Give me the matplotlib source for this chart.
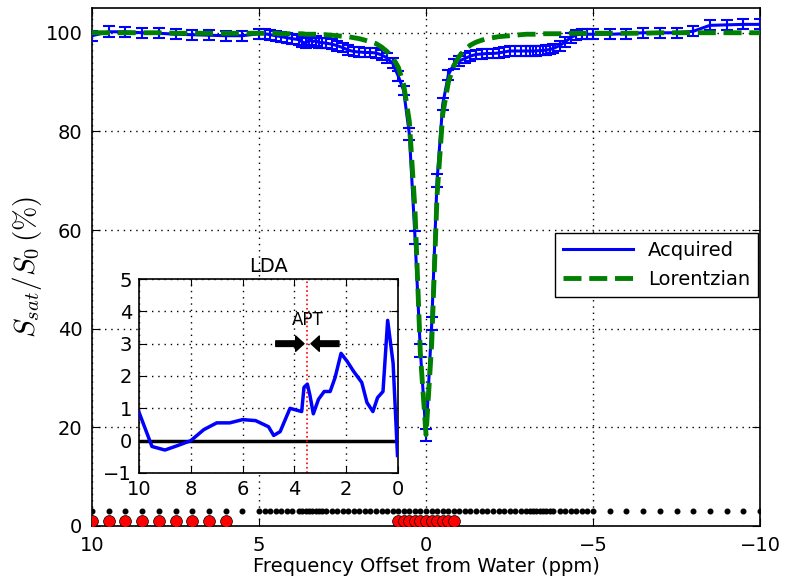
import matplotlib
matplotlib.use("Agg")
import matplotlib.pyplot as plt
from matplotlib.lines import Line2D

plt.rcParams['font.family'] = ['DejaVu Sans']
plt.rcParams['mathtext.fontset'] = 'cm'

# ---------------- data ----------------
offsets = [10, 9.5, 9, 8.5, 8, 7.5, 7, 6.5, 6, 5.5, 5,
           4.83, 4.67, 4.5, 4.33, 4.17, 4.0,
           3.8, 3.7, 3.6, 3.5, 3.4, 3.3, 3.2, 3.1, 3.0,
           2.83, 2.67, 2.5, 2.33, 2.17, 2.0,
           1.83, 1.67, 1.5, 1.33, 1.17, 1.0,
           0.83, 0.67, 0.5, 0.33, 0.17, 0,
           -0.17, -0.33, -0.5, -0.67, -0.83,
           -1.0, -1.17, -1.33, -1.5, -1.67, -1.83,
           -2.0, -2.17, -2.33, -2.5, -2.67, -2.83,
           -3.0, -3.1, -3.2, -3.3, -3.4, -3.5, -3.6, -3.7, -3.8,
           -4.0, -4.17, -4.33, -4.5, -4.67, -4.83,
           -5, -5.5, -6, -6.5, -7, -7.5, -8, -8.5, -9, -9.5, -10]

acquired = [99.4, 100.2, 100.2, 100.0, 99.9, 99.7, 99.6, 99.5, 99.4, 99.4, 99.8,
            99.8, 99.6, 99.4, 99.2, 99.0, 98.8,
            98.6, 98.1, 97.9, 98.6, 98.2, 98.4, 98.0, 98.0, 97.9,
            97.7, 97.4, 97.0, 96.5, 96.2, 96.1,
            96.0, 96.0, 95.9, 95.5, 94.9, 93.8,
            91.2, 88.3, 79.5, 58.5, 35.5, 18.4,
            41.0, 70.0, 85.5, 91.5, 93.6,
            94.3, 94.8, 95.3, 95.6, 95.7, 95.8,
            95.8, 95.9, 96.1, 96.3, 96.3, 96.3,
            96.3, 96.3, 96.3, 96.3, 96.4, 96.4, 96.5, 96.6, 96.8,
            97.4, 98.2, 99.0, 99.6, 99.7, 99.7,
            99.7, 99.7, 99.8, 100.0, 100.0, 100.0, 100.3, 101.5, 101.6, 101.7, 101.7]

errors = [1.0, 1.1, 1.0, 1.0, 1.0, 1.0, 1.0, 1.0, 1.0, 1.0, 1.0,
          1.0, 1.0, 1.0, 1.0, 1.0, 1.0,
          1.0, 1.0, 1.0, 1.0, 1.0, 1.0, 1.0, 1.0, 1.0,
          1.0, 1.0, 1.0, 1.0, 1.0, 1.0,
          1.0, 1.0, 1.0, 1.0, 1.0, 1.0,
          1.0, 1.0, 1.2, 1.3, 1.3, 1.2,
          1.3, 1.3, 1.2, 1.0, 1.0,
          1.0, 1.0, 1.0, 1.0, 1.0, 1.0,
          1.0, 1.0, 1.0, 1.0, 1.0, 1.0,
          1.0, 1.0, 1.0, 1.0, 1.0, 1.0, 1.0, 1.0, 1.0,
          1.0, 1.0, 1.0, 1.0, 1.0, 1.0,
          1.0, 1.0, 1.0, 1.0, 1.0, 1.0, 1.0, 1.0, 1.0, 1.0, 1.0]

lorentzian = [100.0, 100.0, 100.0, 100.0, 100.0, 99.9, 99.9, 99.9, 99.9, 99.9, 99.9,
              99.9, 99.9, 99.9, 99.8, 99.8, 99.8,
              99.8, 99.8, 99.7, 99.7, 99.7, 99.7, 99.7, 99.6, 99.6,
              99.5, 99.4, 99.3, 99.2, 99.0, 98.8,
              98.5, 98.2, 97.8, 97.1, 96.2, 95.0,
              93.0, 89.5, 82.0, 64.0, 35.0, 18.5,
              37.0, 67.0, 83.5, 90.0, 93.3,
              95.3, 96.6, 97.5, 98.1, 98.5, 98.8,
              99.0, 99.2, 99.3, 99.4, 99.5, 99.6,
              99.7, 99.7, 99.7, 99.7, 99.7, 99.8, 99.8, 99.8, 99.8,
              99.8, 99.8, 99.9, 99.9, 99.9, 99.9,
              99.9, 99.9, 99.9, 99.9, 100.0, 100.0, 100.0, 100.0, 100.0, 100.0, 100.0]

sample_level = 3
selected_offsets = [10, 9.5, 9, 8.5, 8, 7.5, 7, 6.5, 6,
                    0.83, 0.67, 0.5, 0.33, 0.17, 0, -0.17, -0.33, -0.5, -0.67, -0.83]
selected_level = 1

lda_x = [10, 9.5, 9, 8.5, 8, 7.5, 7, 6.5, 6, 5.5, 5, 4.8, 4.55, 4.17, 3.72, 3.63,
         3.5, 3.4, 3.27, 3.07, 2.85, 2.62, 2.43, 2.2, 1.97, 1.72, 1.4, 1.2, 0.97,
         0.79, 0.58, 0.4, 0.19, 0.02]
lda_y = [0.88, -0.18, -0.29, -0.15, 0.0, 0.34, 0.55, 0.55, 0.65, 0.62, 0.43, 0.16,
         0.28, 1.0, 0.9, 1.65, 1.75, 1.4, 0.83, 1.28, 1.52, 1.52, 1.95, 2.7, 2.46,
         2.15, 1.8, 1.18, 0.9, 1.33, 1.52, 3.72, 2.4, -0.46]
apt_ppm = 3.5

GRID = dict(color='k', linestyle=(0, (1, 3.5)), linewidth=1.0)

# ---------------- figure ----------------
fig = plt.figure(figsize=(7.88, 5.78), dpi=100)
fig.patch.set_facecolor('white')
ax = fig.add_axes([0.1168, 0.09, 0.8477, 0.896])

ax.errorbar(offsets, acquired, yerr=errors, color='b', lw=2.2, capsize=4,
            elinewidth=1.5, capthick=1.5, zorder=3)
ax.plot(offsets, lorentzian, '--', color='g', lw=3.5, zorder=4)
ax.plot(offsets, [sample_level] * len(offsets), 'o', color='k', ms=3.3, zorder=5)
ax.plot(selected_offsets, [selected_level] * len(selected_offsets), 'o',
        color='red', mec='k', mew=0.5, ms=8.5, zorder=5)

ax.set_xlim(10, -10)
ax.set_ylim(0, 105)
ax.set_xticks([10, 5, 0, -5, -10])
ax.set_yticks([0, 20, 40, 60, 80, 100])
ax.grid(True, **GRID)
ax.tick_params(direction='in', top=True, right=True, length=6, labelsize=14, pad=7)
ax.set_xlabel('Frequency Offset from Water (ppm)', fontsize=14, labelpad=2)
ax.set_ylabel(r'$S_{sat}/S_0\,(\%)$', fontsize=21, labelpad=1)
for s in ax.spines.values():
    s.set_linewidth(1.2)

handles = [Line2D([], [], color='b', lw=2.2),
           Line2D([], [], color='g', lw=3.5, ls='--')]
leg = ax.legend(handles, ['Acquired', 'Lorentzian'], loc='center right',
                bbox_to_anchor=(0.997, 0.504), borderaxespad=0,
                fontsize=14, fancybox=False, framealpha=1, edgecolor='k',
                handlelength=3.6)
leg.get_frame().set_linewidth(1.0)

# ---------------- inset ----------------
ax2 = fig.add_axes([0.1764, 0.1817, 0.3287, 0.3356])
ax2.set_facecolor('white')
ax2.plot(lda_x, lda_y, color='b', lw=2.5, zorder=3)
ax2.axhline(0, color='k', lw=2.5, zorder=2)
ax2.axvline(apt_ppm, color='r', ls=':', lw=1.2, zorder=2)
ax2.annotate('', xy=(3.63, 3), xytext=(4.72, 3),
             arrowprops=dict(facecolor='black', edgecolor='black', width=4,
                             headwidth=11, headlength=6, shrink=0))
ax2.annotate('', xy=(3.36, 3), xytext=(2.28, 3),
             arrowprops=dict(facecolor='black', edgecolor='black', width=4,
                             headwidth=11, headlength=6, shrink=0))
ax2.text(apt_ppm, 3.72, 'APT', ha='center', va='center', fontsize=12)
ax2.set_xlim(10, 0)
ax2.set_ylim(-1, 5)
ax2.set_xticks([10, 8, 6, 4, 2, 0])
ax2.set_yticks([-1, 0, 1, 2, 3, 4, 5])
ax2.grid(True, **GRID)
ax2.tick_params(direction='in', top=True, right=True, length=5, labelsize=14, pad=5)
ax2.set_title('LDA', fontsize=14, pad=5)
for s in ax2.spines.values():
    s.set_linewidth(1.2)

fig.savefig('out.png', dpi=100, facecolor='white')
